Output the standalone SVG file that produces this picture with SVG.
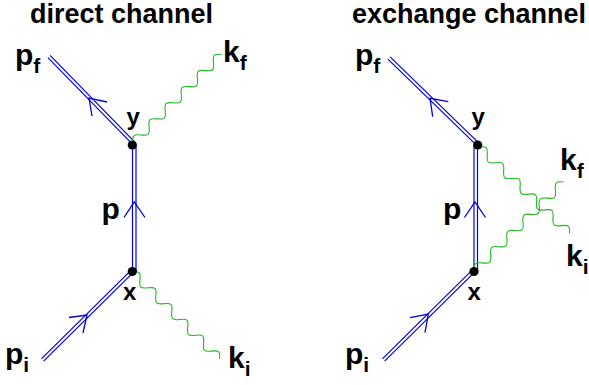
<svg xmlns="http://www.w3.org/2000/svg" xmlns:xlink="http://www.w3.org/1999/xlink" width="589" height="385" viewBox="0 0 589 385">
<style>
.t{font-family:"Liberation Sans",Arial,sans-serif;font-weight:bold;fill:#000}
.fer{stroke:#0000dd;stroke-width:1.2;fill:none}
.arr{stroke:#0000dd;stroke-width:1.3;fill:none;stroke-linejoin:miter}
.ph{stroke:#22b822;stroke-width:1.1;fill:none}
.v{fill:#000}
</style>
<defs>
<path id="wave" d="M0,0 c1.826,-2.305 3.573,-4.5 5.6,-4.5 s3.774,2.195 5.6,4.5 s3.573,4.5 5.6,4.5 s3.774,-2.195 5.6,-4.5 s3.573,-4.5 5.6,-4.5 s3.774,2.195 5.6,4.5 s3.573,4.5 5.6,4.5 s3.774,-2.195 5.6,-4.5 s3.573,-4.5 5.6,-4.5 s3.774,2.195 5.6,4.5 s3.573,4.5 5.6,4.5 s3.774,-2.195 5.6,-4.5 s3.573,-4.5 5.6,-4.5 s3.774,2.195 5.6,4.5 s3.573,4.5 5.6,4.5 s3.774,-2.195 5.6,-4.5 s3.573,-4.5 5.6,-4.5 s3.774,2.195 5.6,4.5 s3.573,4.5 5.6,4.5 s3.774,-2.195 5.6,-4.5 s3.573,-4.5 5.6,-4.5 s3.774,2.195 5.6,4.5"/>
</defs>

<text class="t" x="30" y="22.5" font-size="27">direct channel</text>
<text class="t" x="352" y="22.5" font-size="27">exchange channel</text>

<g id="connectors">
  <g id="d-pf-line">
    <line class="fer" x1="47.9" y1="57.6" x2="131.4" y2="143.1"/>
    <line class="fer" x1="50.1" y1="55.4" x2="133.6" y2="140.9"/>
    <path class="arr" d="M107,102 L89,98 L92,116"/>
  </g>
  <g id="d-p-line">
    <line class="fer" x1="132.5" y1="145" x2="132.5" y2="271.5"/>
    <line class="fer" x1="136" y1="145" x2="136" y2="271.5"/>
    <path class="arr" d="M124,217.5 L134.3,202 L145,217.5"/>
  </g>
  <g id="d-pi-line">
    <line class="fer" x1="41.4" y1="358.9" x2="129.9" y2="271.4"/>
    <line class="fer" x1="43.6" y1="361.1" x2="132.1" y2="273.6"/>
    <path class="arr" d="M69,317.5 L87,315 L83,333"/>
  </g>
  <use class="ph" xlink:href="#wave" href="#wave" transform="translate(133,143) rotate(-45) scale(1.016,1)"/>
  <use class="ph" xlink:href="#wave" href="#wave" transform="translate(132,272) rotate(44.84) scale(1.0016,1)"/>

  <g id="e-pf-line">
    <line class="fer" x1="387.9" y1="59.15" x2="475.4" y2="144.15"/>
    <line class="fer" x1="390.1" y1="56.85" x2="477.6" y2="141.85"/>
    <path class="arr" d="M448.3,101.7 L430,98.3 L432.7,116.7"/>
  </g>
  <g id="e-p-line">
    <line class="fer" x1="474" y1="145" x2="474" y2="271.5"/>
    <line class="fer" x1="477.5" y1="145" x2="477.5" y2="271.5"/>
    <path class="arr" d="M464.5,217.5 L475,202 L485.5,217.5"/>
  </g>
  <g id="e-pi-line">
    <line class="fer" x1="382.4" y1="358.9" x2="471.4" y2="270.9"/>
    <line class="fer" x1="384.6" y1="361.1" x2="473.6" y2="273.1"/>
    <path class="arr" d="M410,317.7 L428.3,314 L425,332.7"/>
  </g>
  <use class="ph" xlink:href="#wave" href="#wave" transform="translate(479,147) rotate(43.7) scale(1.016,1)"/>
  <use class="ph" xlink:href="#wave" href="#wave" transform="translate(474.5,271) rotate(-45) scale(1.022,1)"/>
</g>

<g id="d-vy"><circle class="v" cx="132.3" cy="145" r="4.6"/><text class="t" x="126.5" y="125" font-size="24">y</text></g>
<g id="d-vx"><circle class="v" cx="132.3" cy="271.5" r="4.6"/><text class="t" x="123" y="300" font-size="24">x</text></g>
<g id="d-pf"><text class="t" x="15" y="65" font-size="30">p<tspan font-size="21" dy="8">f</tspan></text></g>
<g id="d-kf"><text class="t" x="223" y="62" font-size="30">k<tspan font-size="21" dy="8">f</tspan></text></g>
<g id="d-p"><text class="t" x="101.5" y="219" font-size="30">p</text></g>
<g id="d-pi"><text class="t" x="5" y="364" font-size="30">p<tspan font-size="21" dy="8">i</tspan></text></g>
<g id="d-ki"><text class="t" x="228" y="368" font-size="30">k<tspan font-size="21" dy="8">i</tspan></text></g>

<g id="e-vy"><circle class="v" cx="477.7" cy="145" r="4.6"/><text class="t" x="471.5" y="125" font-size="24">y</text></g>
<g id="e-vx"><circle class="v" cx="474" cy="271.5" r="4.6"/><text class="t" x="467.5" y="300" font-size="24">x</text></g>
<g id="e-pf"><text class="t" x="355" y="65" font-size="30">p<tspan font-size="21" dy="8">f</tspan></text></g>
<g id="e-kf"><text class="t" x="560" y="170" font-size="30">k<tspan font-size="21" dy="8">f</tspan></text></g>
<g id="e-p"><text class="t" x="443" y="219" font-size="30">p</text></g>
<g id="e-pi"><text class="t" x="345" y="364" font-size="30">p<tspan font-size="21" dy="8">i</tspan></text></g>
<g id="e-ki"><text class="t" x="566" y="266" font-size="30">k<tspan font-size="21" dy="8">i</tspan></text></g>
</svg>
